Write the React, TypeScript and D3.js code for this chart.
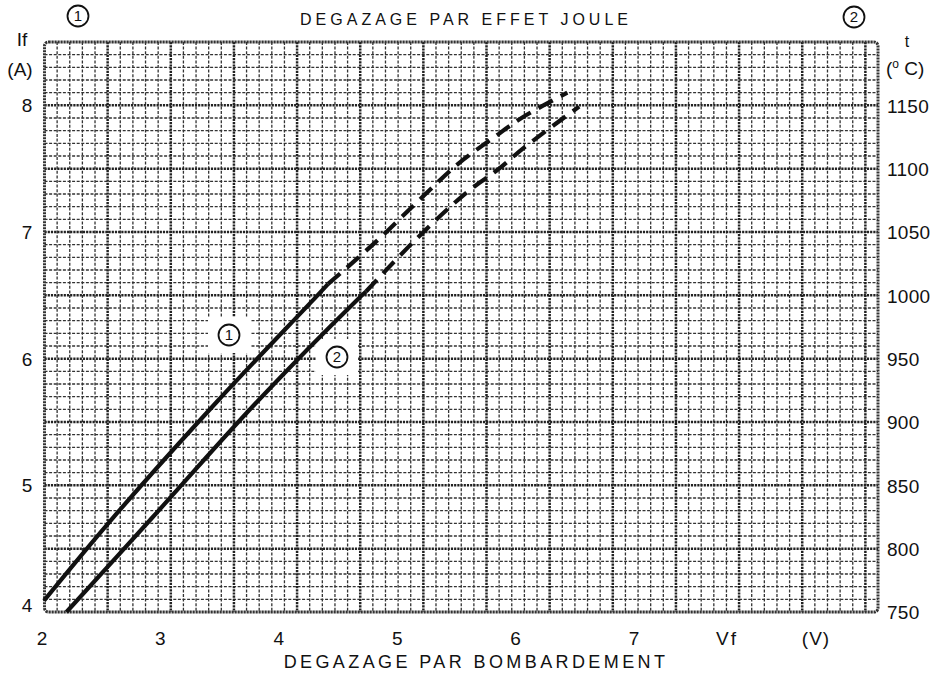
import React from 'react';
import * as d3 from 'd3';

// Vf (V) -> If (A)
const curve1Solid: [number, number][] = [[2.0, 4.09], [2.57, 4.73], [3.47, 5.67], [4.27, 6.46], [4.4, 6.59]];
const curve1Dashed: [number, number][] = [[4.4, 6.59], [4.8, 6.92], [5.2, 7.28], [5.5, 7.54], [5.79, 7.74], [6.05, 7.91], [6.42, 8.1]];
const curve2Solid: [number, number][] = [[2.19, 4.0], [2.9, 4.73], [3.81, 5.67], [4.64, 6.46], [4.72, 6.53]];
const curve2Dashed: [number, number][] = [[4.72, 6.53], [5.15, 6.95], [5.58, 7.32], [5.83, 7.49], [6.06, 7.67], [6.52, 7.99]];

const vfTicks = [2, 3, 4, 5, 6, 7];
const ifTicks = [4, 5, 6, 7, 8];
const tTicks = [750, 800, 850, 900, 950, 1000, 1050, 1100, 1150];

const W = 945;
const H = 673;
const left = 44.5;
const right = 878;
const top = 42;
const bottom = 612;

const font = '"Liberation Sans", Arial, sans-serif';

const Circled = ({ x, y, n, mask }: { x: number; y: number; n: string; mask?: boolean }) => (
    <g transform={`translate(${x},${y})`}>
        {mask && <rect x={-21} y={-18} width={42} height={36} fill="#fff" />}
        <circle r={10.5} fill="none" stroke="#111" strokeWidth={1.8} />
        <text textAnchor="middle" dy="0.36em" fontSize={15} fontFamily={font} fill="#111">
            {n}
        </text>
    </g>
);

export default function App() {
    const x = d3.scaleLinear().domain([2, 7]).range([44, 636]);
    const yIf = d3.scaleLinear().domain([4, 8.5]).range([bottom, top]);
    const yT = d3.scaleLinear().domain([750, 1200]).range([bottom, top]);
    // graph paper columns
    const cols = d3.scaleLinear().domain([0, 66]).range([left, right]);

    const line = d3
        .line<[number, number]>()
        .x((d) => x(d[0]))
        .y((d) => yIf(d[1]))
        .curve(d3.curveCatmullRom.alpha(0.5));

    const rows = d3.range(750, 1201, 10);
    const colIdx = d3.range(0, 67);

    return (
        <svg
            width={W}
            height={H}
            viewBox={`0 0 ${W} ${H}`}
            style={{ position: 'absolute', left: 0, top: 0, background: '#fff' }}
        >
            <rect width={W} height={H} fill="#fff" />

            {/* minor grid */}
            <g stroke="#333" strokeWidth={1.3} strokeDasharray="3 1.6">
                {rows
                    .filter((v) => v % 50 !== 0)
                    .map((v) => (
                        <line key={'r' + v} x1={left} x2={right} y1={yT(v)} y2={yT(v)} />
                    ))}
                {colIdx
                    .filter((i) => i % 5 !== 0 && i < 66)
                    .map((i) => (
                        <line key={'c' + i} x1={cols(i)} x2={cols(i)} y1={top} y2={bottom} />
                    ))}
            </g>
            {/* heavy grid */}
            <g stroke="#222" strokeWidth={2.5} strokeDasharray="2.2 1">
                {rows
                    .filter((v) => v % 50 === 0 && v > 750 && v < 1200)
                    .map((v) => (
                        <line key={'R' + v} x1={left} x2={right} y1={yT(v)} y2={yT(v)} />
                    ))}
                {colIdx
                    .filter((i) => i % 5 === 0 && i > 0)
                    .map((i) => (
                        <line key={'C' + i} x1={cols(i)} x2={cols(i)} y1={top} y2={bottom} />
                    ))}
            </g>
            <rect
                x={left}
                y={top}
                width={right - left}
                height={bottom - top}
                rx={4}
                fill="none"
                stroke="#333"
                strokeWidth={3}
                strokeDasharray="2.2 0.8"
            />

            {/* label masks */}
            <Circled x={229} y={335} n="1" mask />
            <Circled x={337} y={357} n="2" mask />

            {/* curves */}
            <g fill="none" stroke="#111" strokeWidth={4.2} strokeLinecap="butt">
                <path d={line(curve1Solid) || ''} />
                <path d={line(curve2Solid) || ''} />
                <path d={line(curve1Dashed) || ''} strokeDasharray="16 9" />
                <path d={line(curve2Dashed) || ''} strokeDasharray="16 9" />
            </g>

            {/* titles */}
            <text
                x={466}
                y={25}
                textAnchor="middle"
                fontSize={16}
                letterSpacing={4}
                fontFamily={font}
                fill="#111"
            >
                DEGAZAGE PAR EFFET JOULE
            </text>
            <text
                x={476}
                y={668}
                textAnchor="middle"
                fontSize={18}
                letterSpacing={3.4}
                fontFamily={font}
                fill="#111"
            >
                DEGAZAGE PAR BOMBARDEMENT
            </text>
            <Circled x={78} y={16} n="1" />
            <Circled x={854} y={17} n="2" />

            {/* left axis */}
            <g fontFamily={font} fontSize={19} fill="#111" textAnchor="middle">
                <text x={22} y={46}>If</text>
                <text x={20} y={76}>(A)</text>
                {ifTicks.map((v) => (
                    <text key={v} x={27} y={v === 4 ? 605 : yIf(v)} dy="0.36em">
                        {v}
                    </text>
                ))}
            </g>

            {/* right axis */}
            <g fontFamily={font} fontSize={19} fill="#111">
                <text x={907} y={47} textAnchor="middle" fontSize={16}>t</text>
                <text x={886} y={75}>
                    (<tspan fontSize={12} dy={-7}>o</tspan>
                    <tspan dy={7}> C)</tspan>
                </text>
                {tTicks.map((v) => (
                    <text key={v} x={887} y={yT(v)} dy="0.38em" letterSpacing={0.3}>
                        {v}
                    </text>
                ))}
            </g>

            {/* bottom axis */}
            <g fontFamily={font} fontSize={19} fill="#111" textAnchor="middle">
                {vfTicks.map((v) => (
                    <text key={v} x={x(v) - 2} y={645}>
                        {v}
                    </text>
                ))}
                <text x={727} y={645} letterSpacing={2}>Vf</text>
                <text x={816} y={645} letterSpacing={1}>(V)</text>
            </g>
        </svg>
    );
}
